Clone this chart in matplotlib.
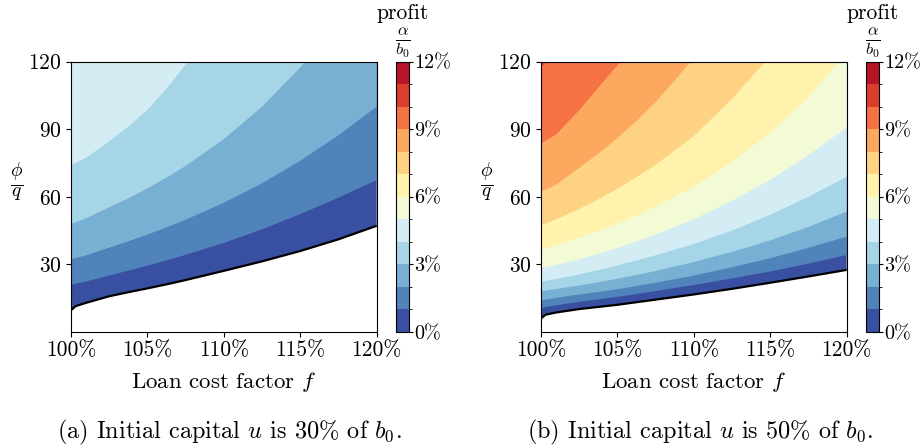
import numpy as np
import matplotlib.pyplot as plt
from matplotlib.colors import ListedColormap, BoundaryNorm
from matplotlib.cm import ScalarMappable

plt.rcParams['font.family'] = 'serif'
plt.rcParams['font.serif'] = ['cmr10']
plt.rcParams['mathtext.fontset'] = 'cm'
plt.rcParams['axes.unicode_minus'] = False
plt.rcParams['axes.formatter.use_mathtext'] = True

nan = np.nan

# loan cost factor f (in %) at which the contour lines were read
f_grid = [100, 100.3, 101, 102.5, 103.75, 105, 106.25, 107.5, 110, 112.5, 115, 117.5, 120]

# (a) u is 30% of b0: phi/q on the 0%, 1%, 2%, ... profit contours
a_lines = [
    [9.6, 11.4, 12.9, 15.8, 17.6, 19.3, 21.1, 23.0, 27.1, 31.3, 35.9, 41.1, 47.1],
    [20.8, 21.4, 22.4, 25.0, 27.15, 29.4, 31.75, 34.2, 39.5, 45.5, 52.3, 59.6, 67.4],
    [32.2, 32.8, 34.0, 37.4, 40.2, 43.2, 46.4, 49.8, 57.3, 66.0, 76.0, 87.3, 100.0],
    [47.9, 48.7, 50.5, 55.3, 59.3, 63.7, 68.5, 73.7, 85.6, 100.0, 117.5, nan, nan],
    [74.1, 75.0, 77.4, 84.6, 91.2, 98.6, 108.0, 118.6, nan, nan, nan, nan, nan],
]
# f where a contour leaves through the top edge (nan: reaches right edge)
a_exit = [nan, nan, nan, 115.3, 107.65]

# (b) u is 50% of b0
b_lines = [
    [6.0, 7.6, 8.6, 10.1, 11.05, 12.0, 13.15, 14.3, 16.6, 19.1, 21.8, 24.6, 27.5],
    [10.4, 11.0, 11.8, 13.3, 14.4, 15.5, 16.8, 18.1, 20.8, 23.7, 26.8, 30.3, 34.1],
    [13.9, 14.3, 15.1, 16.6, 17.7, 18.9, 20.3, 21.8, 25.0, 28.7, 32.7, 37.3, 42.3],
    [18.0, 18.3, 19.0, 20.6, 22.0, 23.6, 25.25, 27.0, 31.0, 35.5, 40.6, 46.6, 53.4],
    [22.3, 22.6, 23.5, 25.5, 27.4, 29.5, 31.7, 34.0, 39.0, 45.0, 52.0, 60.0, 68.9],
    [28.2, 28.6, 29.7, 32.2, 34.6, 37.2, 40.1, 43.2, 50.0, 58.2, 67.5, 78.5, 90.7],
    [36.5, 37.0, 38.5, 41.8, 44.8, 48.0, 51.7, 55.6, 64.5, 75.5, 88.5, 104.0, nan],
    [47.4, 48.1, 50.0, 54.6, 58.9, 63.5, 68.7, 74.2, 87.0, 103.5, nan, nan, nan],
    [62.2, 63.1, 65.4, 72.8, 79.2, 86.0, 93.7, 102.0, nan, nan, nan, nan, nan],
    [83.7, 84.9, 87.7, 98.5, 108.5, nan, nan, nan, nan, nan, nan, nan, nan],
    [117.8, nan, nan, nan, nan, nan, nan, nan, nan, nan, nan, nan, nan],
]
b_exit = [nan, nan, nan, nan, nan, nan, 119.45, 114.66, 109.8, 105.2, 100.4]

levels = np.arange(0, 13)
x_ticks = [100, 105, 110, 115, 120]
y_ticks = [30, 60, 90, 120]
cb_ticks = [0, 3, 6, 9, 12]

colors = plt.get_cmap('RdYlBu_r')((np.arange(12) + 0.5) / 12)
cmap = ListedColormap(colors)
norm = BoundaryNorm(levels, cmap.N)

fig = plt.figure(figsize=(9.21, 4.48), dpi=100)
W, H = 921, 448


def px_axes(x0, y0, x1, y1):
    return fig.add_axes([x0 / W, 1 - y1 / H, (x1 - x0) / W, (y1 - y0) / H])


def draw_panel(ax, lines, exits):
    f = np.array(f_grid)
    for k, (ys, fx) in enumerate(zip(lines, exits)):
        ys = np.array(ys)
        ok = ~np.isnan(ys)
        xs = list(f[ok])
        yv = list(ys[ok])
        if np.isnan(fx):
            xs += [120, 100]
            yv += [120, 120]
        else:
            xs += [fx, 100]
            yv += [120, 120]
        ax.fill(xs, yv, color=colors[k], lw=0)
    ax.plot(f_grid, lines[0], color='black', lw=1.6, solid_capstyle='butt')
    ax.set_xlim(100, 120)
    ax.set_ylim(0, 120)
    ax.set_xticks(x_ticks)
    ax.set_xticklabels([f'{v}%' for v in x_ticks])
    ax.set_yticks(y_ticks)
    ax.tick_params(labelsize=15.5, length=3.5, width=0.8)
    ax.tick_params(axis='x', pad=3)
    ax.set_xlabel('Loan cost factor $f$', fontsize=16.5, labelpad=7)
    for s in ax.spines.values():
        s.set_linewidth(0.8)


def draw_cbar(cax, xc):
    cb = fig.colorbar(ScalarMappable(norm=norm, cmap=cmap), cax=cax,
                      ticks=cb_ticks)
    cb.ax.set_yticklabels([f'{v}%' for v in cb_ticks])
    cb.ax.tick_params(labelsize=14.5, length=3, width=0.8, pad=0.8)
    cb.outline.set_linewidth(0.8)
    fig.text(xc / W, 1 - 13 / H, 'profit', fontsize=15.5, ha='center', va='center')
    fig.text(xc / W, 1 - 42 / H, r'$\frac{\alpha}{b_0}$', fontsize=17,
             ha='center', va='center')


ax1 = px_axes(71, 61.7, 376.7, 331.8)
draw_panel(ax1, a_lines, a_exit)
cax1 = px_axes(396, 61.7, 409.3, 331.8)
draw_cbar(cax1, 402.7)
fig.text(17 / W, 1 - 182 / H, r'$\frac{\phi}{q}$', fontsize=20, ha='center', va='center')
fig.text(229 / W, 1 - 432 / H, '(a) Initial capital $u$ is 30% of $b_0$.',
         fontsize=17.5, ha='center', va='center')

ax2 = px_axes(541, 61.7, 846.7, 331.8)
draw_panel(ax2, b_lines, b_exit)
cax2 = px_axes(866, 61.7, 879.3, 331.8)
draw_cbar(cax2, 872.7)
fig.text(487 / W, 1 - 182 / H, r'$\frac{\phi}{q}$', fontsize=20, ha='center', va='center')
fig.text(700 / W, 1 - 432 / H, '(b) Initial capital $u$ is 50% of $b_0$.',
         fontsize=17.5, ha='center', va='center')

fig.savefig('out.png', dpi=100)
